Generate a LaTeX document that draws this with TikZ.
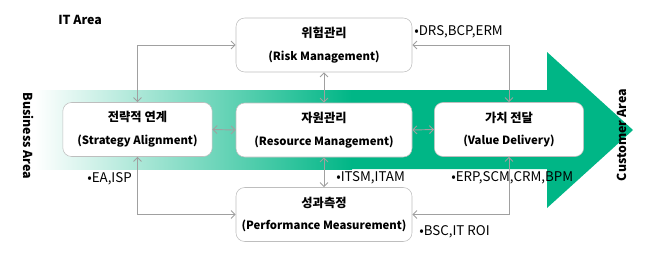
\documentclass[tikz,border=0pt]{standalone}
\usepackage{fontspec}
\setmainfont{Noto Sans CJK KR}
\usetikzlibrary{arrows.meta}
\definecolor{arrgreen}{RGB}{0,182,134}
\definecolor{linegray}{RGB}{160,160,160}
\definecolor{boxgray}{RGB}{190,190,190}
\newcommand\engsub[1]{{\fontsize{8.5}{17}\selectfont #1}}

\begin{document}
\begin{tikzpicture}[x=0.75pt, y=-0.75pt,
    area/.style={font=\fontsize{9.3}{11}\selectfont\bfseries, inner sep=0pt},
    note/.style={font=\fontsize{10}{11}\selectfont, anchor=west, inner sep=0pt},
    box/.style={draw=boxgray, fill=white, rounded corners=6.5pt, align=center,
        font=\fontsize{9.2}{17}\selectfont\bfseries, inner sep=0pt,
        minimum width=132pt, minimum height=40.5pt},
    smallbox/.style={box, minimum width=112pt},
    link/.style={draw=linegray, line width=0.7pt,
        {Straight Barb[length=3pt,width=6pt]}-{Straight Barb[length=3pt,width=6pt]}}]

    \useasboundingbox (0,0) rectangle (665,258);

    % Big arrow in the back
    \shade[left color=white, right color=arrgreen] (35,90) rectangle (352,169);
    \fill[arrgreen] (351,90) -- (547,90) -- (547,52) -- (633,130)
        -- (547,208) -- (547,169) -- (351,169) -- cycle;

    % Area labels
    \node[area, anchor=west] (itarea) at (58,20) {IT Area};
    \node[area, rotate=-90] (busarea) at (29,136) {Business Area};
    \node[area, rotate=90] (custarea) at (622,135) {Customer Area};

    % Boxes
    \node[box] (risk) at (324,45) {위험관리\\\engsub{(Risk Management)}};
    \node[smallbox] (strat) at (137.5,129.5) {전략적 연계\\\engsub{(Strategy Alignment)}};
    \node[box] (res) at (324,130) {자원관리\\\engsub{(Resource Management)}};
    \node[smallbox] (value) at (509,129.5) {가치 전달\\\engsub{(Value Delivery)}};
    \node[box] (perf) at (324,214.5) {성과측정\\\engsub{(Performance Measurement)}};

    % Links
    \draw[link] (strat.north) |- (risk.west);
    \draw[link] (strat.south) |- (perf.west);
    \draw[link] (risk.east) -| (value.north);
    \draw[link] (perf.east) -| (value.south);
    \draw[link] (risk.south) -- (res.north);
    \draw[link] (res.south) -- (perf.north);
    \draw[link] (strat.east) -- (res.west);
    \draw[link] (res.east) -- (value.west);

    % Notes
    \node[note] (drs) at (414,32) {•DRS,BCP,ERM};
    \node[note] (ea) at (87,179) {•EA,ISP};
    \node[note] (itsm) at (336,178) {•ITSM,ITAM};
    \node[note] (erp) at (451,178) {•ERP,SCM,CRM,BPM};
    \node[note] (bsc) at (419,232) {•BSC,IT ROI};

\end{tikzpicture}
\end{document}
